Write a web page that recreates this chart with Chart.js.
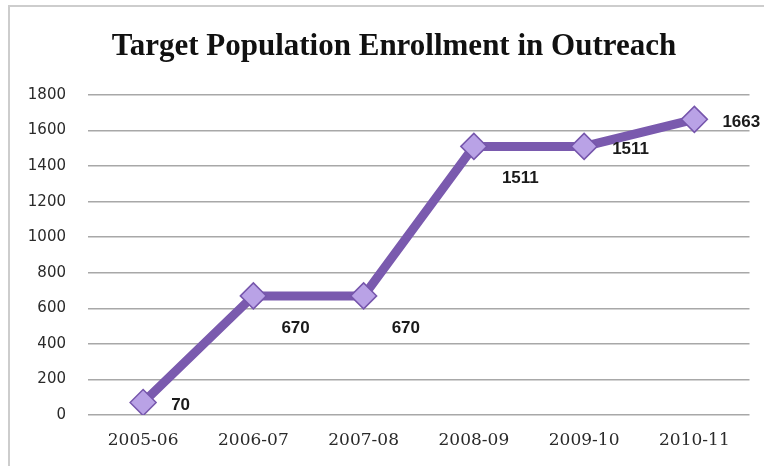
<!DOCTYPE html>
<html>
<head>
<meta charset="utf-8">
<script src="https://cdn.jsdelivr.net/npm/chart.js@4.4.1/dist/chart.umd.min.js"></script>
<style>
  html, body { margin: 0; padding: 0; background: #fff; }
  #wrap { width: 764px; height: 466px; position: relative; }
</style>
</head>
<body>
<div id="wrap"><canvas id="enrollChart"></canvas></div>
<script>
// Données du graphique
const seasons = ['2005-06', '2006-07', '2007-08', '2008-09', '2009-10', '2010-11'];
const enrollment = [70, 670, 670, 1511, 1511, 1663];
const yTicks = [0, 200, 400, 600, 800, 1000, 1200, 1400, 1600, 1800];
const chartTitle = 'Target Population Enrollment in Outreach';

// where each value label sits relative to its point
const labelPlace = ['right', 'below', 'below', 'below', 'right', 'right'];

// fond blanc + bordure grise (haut / gauche) + titre
const frame = {
    id: 'frame',
    beforeDraw(chart) {
        const c = chart.ctx;
        c.save();
        c.fillStyle = '#fff';
        c.fillRect(0, 0, chart.width, chart.height);
        c.strokeStyle = '#cdcdcd';
        c.lineWidth = 2;
        c.beginPath();
        c.moveTo(9, chart.height);
        c.lineTo(9, 6);
        c.lineTo(chart.width, 6);
        c.stroke();
        // titre centré comme dans l'original (pas sur tout le canvas)
        c.font = "bold 31px 'Liberation Serif', serif";
        c.fillStyle = '#111';
        c.textAlign = 'center';
        c.textBaseline = 'middle';
        c.fillText(chartTitle, 394, 47);
        c.restore();
    }
};

// étiquettes de valeurs
const valueLabels = {
    id: 'valueLabels',
    afterDatasetsDraw(chart) {
        const c = chart.ctx;
        const meta = chart.getDatasetMeta(0);
        c.save();
        c.font = "bold 17px 'Liberation Sans', sans-serif";
        c.fillStyle = '#1a1a1a';
        c.textAlign = 'left';
        c.textBaseline = 'middle';
        meta.data.forEach((pt, i) => {
            const dy = labelPlace[i] === 'below' ? 32 : 3;
            c.fillText(String(enrollment[i]), pt.x + 28, pt.y + dy);
        });
        c.restore();
    }
};

new Chart(document.getElementById('enrollChart'), {
    type: 'line',
    data: {
        labels: seasons,
        datasets: [{
            label: 'Enrollment',
            data: enrollment,
            borderColor: '#7a5aae',
            borderWidth: 9,
            pointStyle: 'rectRot',
            pointRadius: 13,
            pointBackgroundColor: '#b9a2e6',
            pointBorderColor: '#7656ac',
            pointBorderWidth: 1.5,
            tension: 0
        }]
    },
    options: {
        responsive: true,
        maintainAspectRatio: false,
        animation: false,
        layout: { padding: { left: 8, right: 14, top: 95, bottom: 12 } },
        plugins: {
            legend: { display: false },
            tooltip: { enabled: false },
            title: { display: false }
        },
        scales: {
            x: {
                offset: true,
                grid: { display: false, drawTicks: false },
                border: { display: false },
                ticks: {
                    color: '#2a2a2a',
                    padding: 15,
                    font: { family: "'DejaVu Serif', serif", size: 17 }
                },
                afterFit(scale) { scale.height = 39; }
            },
            y: {
                min: 0,
                max: 1800,
                afterBuildTicks(scale) { scale.ticks = yTicks.map(v => ({ value: v })); },
                grid: { color: '#a8a8a8', lineWidth: 1.5, drawTicks: false },
                border: { display: false },
                ticks: {
                    color: '#2a2a2a',
                    padding: 22,
                    font: { family: "'DejaVu Sans', sans-serif", size: 15 },
                    callback: v => String(v)
                },
                afterFit(scale) { scale.width = 80; }
            }
        }
    },
    plugins: [frame, valueLabels]
});
</script>
</body>
</html>
